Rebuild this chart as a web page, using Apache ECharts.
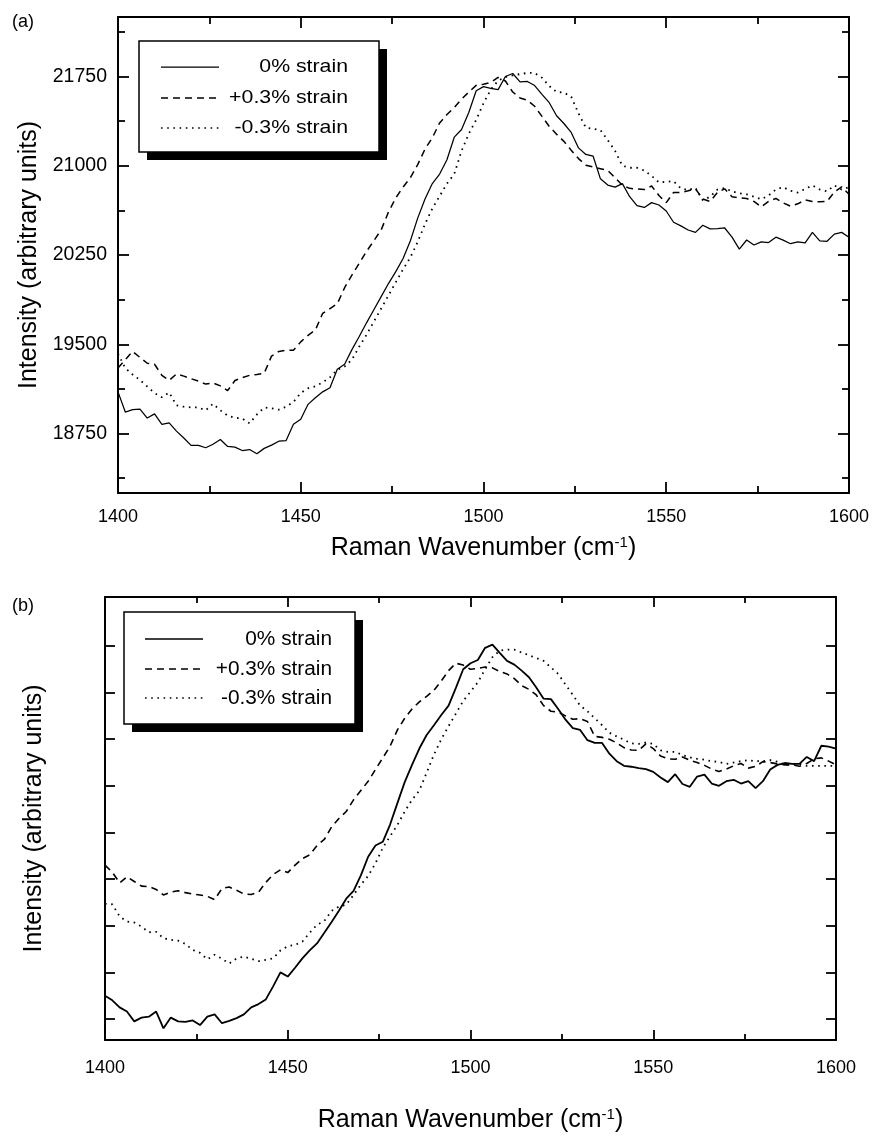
<!DOCTYPE html>
<html><head><meta charset="utf-8">
<script src="https://cdn.jsdelivr.net/npm/echarts@6/dist/echarts.min.js"></script>
<style>html,body{margin:0;padding:0;background:#fff}#c{width:872px;height:1142px}</style>
</head><body><div id="c"></div>
<script>
const wavenumber = [
1400,1402,1404,1406,1408,1410,1412,1414,1416,1418,
1420,1422,1424,1426,1428,1430,1432,1434,1436,1438,
1440,1442,1444,1446,1448,1450,1452,1454,1456,1458,
1460,1462,1464,1466,1468,1470,1472,1474,1476,1478,
1480,1482,1484,1486,1488,1490,1492,1494,1496,1498,
1500,1502,1504,1506,1508,1510,1512,1514,1516,1518,
1520,1522,1524,1526,1528,1530,1532,1534,1536,1538,
1540,1542,1544,1546,1548,1550,1552,1554,1556,1558,
1560,1562,1564,1566,1568,1570,1572,1574,1576,1578,
1580,1582,1584,1586,1588,1590,1592,1594,1596,1598,
1600];

// Panel (a): intensities (arbitrary units)
const a_zero = [
19100,18930,18950,18955,18880,18915,18826,18840,18770,18712,
18650,18650,18630,18660,18700,18641,18635,18607,18615,18580,
18625,18652,18685,18691,18828,18870,18995,19050,19100,19135,
19290,19332,19455,19565,19680,19790,19900,20010,20110,20220,
20370,20560,20720,20850,20930,21050,21240,21305,21450,21630,
21665,21650,21640,21750,21775,21705,21708,21674,21600,21530,
21420,21355,21280,21150,21095,21080,20890,20838,20820,20850,
20740,20665,20650,20690,20670,20620,20525,20495,20460,20440,
20500,20470,20472,20477,20400,20300,20376,20334,20360,20355,
20400,20375,20345,20360,20352,20440,20368,20365,20425,20440,
20400];
const a_plus = [
19300,19370,19440,19390,19340,19332,19239,19197,19250,19232,
19210,19190,19165,19175,19150,19110,19195,19220,19239,19245,
19256,19400,19440,19450,19450,19520,19575,19620,19760,19800,
19840,19975,20081,20180,20280,20370,20461,20610,20730,20820,
20900,21010,21140,21235,21360,21430,21490,21560,21620,21675,
21685,21700,21742,21712,21620,21570,21550,21500,21415,21330,
21265,21205,21130,21060,21005,20990,20975,20960,20900,20835,
20810,20805,20800,20830,20750,20690,20775,20775,20790,20806,
20720,20700,20775,20806,20740,20730,20725,20700,20655,20700,
20725,20688,20660,20680,20713,20700,20697,20700,20780,20823,
20760];
const a_minus = [
19420,19300,19245,19200,19145,19090,19054,19095,18986,18975,
18969,18969,18945,19000,18945,18900,18882,18876,18835,18910,
18968,18962,18950,18975,19015,19090,19130,19147,19180,19222,
19285,19313,19370,19480,19580,19690,19800,19910,20020,20130,
20230,20360,20510,20640,20745,20850,20930,21125,21270,21385,
21525,21640,21715,21745,21760,21770,21780,21780,21740,21670,
21620,21615,21580,21440,21320,21310,21300,21215,21125,21000,
20983,20983,20960,20915,20860,20865,20870,20810,20795,20815,
20710,20740,20800,20812,20785,20768,20760,20740,20718,20750,
20800,20820,20790,20775,20805,20835,20800,20785,20835,20800,
20820];

// Panel (b): intensities in tick units (axis is unlabeled)
const b_zero = [
0.50,0.40,0.25,0.16,-0.05,0.03,0.05,0.16,-0.20,0.03,
-0.05,-0.06,-0.03,-0.13,0.05,0.10,-0.09,-0.04,0.02,0.10,
0.25,0.32,0.42,0.70,1.00,0.91,1.10,1.30,1.47,1.62,
1.85,2.08,2.32,2.58,2.75,3.08,3.48,3.72,3.80,4.17,
4.63,5.08,5.45,5.80,6.09,6.30,6.52,6.72,7.10,7.50,
7.63,7.70,7.96,8.03,7.85,7.68,7.60,7.47,7.33,7.11,
6.87,6.86,6.65,6.42,6.24,6.20,5.98,5.92,5.92,5.69,
5.53,5.43,5.41,5.38,5.36,5.30,5.18,5.08,5.25,5.04,
4.98,5.20,5.24,5.05,5.00,5.10,5.13,5.05,5.10,4.95,
5.10,5.35,5.45,5.49,5.47,5.47,5.62,5.53,5.86,5.84,
5.80];
const b_plus = [
3.30,3.15,2.92,3.05,2.95,2.85,2.84,2.78,2.66,2.72,
2.75,2.71,2.68,2.66,2.63,2.56,2.80,2.83,2.76,2.68,
2.67,2.72,2.93,3.10,3.20,3.14,3.30,3.44,3.52,3.72,
3.85,4.12,4.30,4.45,4.70,4.90,5.10,5.35,5.60,5.85,
6.20,6.45,6.65,6.80,6.92,7.05,7.25,7.47,7.63,7.59,
7.50,7.52,7.55,7.53,7.45,7.40,7.30,7.15,7.07,6.95,
6.72,6.60,6.58,6.50,6.43,6.44,6.38,6.06,6.04,6.00,
5.92,5.82,5.77,5.76,5.90,5.80,5.64,5.58,5.57,5.62,
5.55,5.50,5.44,5.36,5.31,5.36,5.43,5.48,5.38,5.42,
5.52,5.50,5.47,5.45,5.45,5.42,5.48,5.58,5.60,5.53,
5.45];
const b_minus = [
2.47,2.46,2.20,2.09,2.07,1.98,1.86,1.87,1.73,1.70,
1.68,1.61,1.48,1.42,1.28,1.38,1.29,1.19,1.30,1.34,
1.29,1.24,1.27,1.30,1.47,1.56,1.59,1.66,1.85,2.02,
2.10,2.32,2.41,2.45,2.66,2.88,3.07,3.34,3.67,3.92,
4.16,4.45,4.70,4.90,5.28,5.67,6.00,6.28,6.55,6.82,
7.02,7.22,7.50,7.76,7.90,7.92,7.92,7.86,7.80,7.74,
7.68,7.54,7.40,7.17,6.95,6.72,6.60,6.45,6.30,6.14,
6.06,5.99,5.91,5.90,5.93,5.90,5.76,5.73,5.73,5.66,
5.61,5.58,5.56,5.53,5.51,5.47,5.50,5.53,5.55,5.53,
5.53,5.55,5.52,5.45,5.46,5.47,5.43,5.43,5.43,5.43,
5.43];

const seriesNames = ['0% strain', '+0.3% strain', '-0.3% strain'];
const xTickLabels = [1400, 1450, 1500, 1550, 1600];
const xMajorTicks = [1450, 1500, 1550];
const xMinorTicks = [1425, 1475, 1525, 1575];
const aYTickLabels = [18750, 19500, 20250, 21000, 21750];
const aYMinorTicks = [18375, 19125, 19875, 20625, 21375, 22125];
const bYTicks = [0, 1, 2, 3, 4, 5, 6, 7, 8];

const FONT = '"Liberation Sans", Arial, Helvetica, sans-serif';
const pairs = arr => wavenumber.map((w, i) => [w, arr[i]]);
const plain = v => String(v);

function xAx(grid, pos, ticks, len, opts) {
  opts = opts || {};
  return Object.assign({
    type: 'value', gridIndex: grid, position: pos, min: 1400, max: 1600,
    axisLine: { show: !!opts.line, onZero: false, lineStyle: { color: '#000', width: 2 } },
    axisTick: { show: true, inside: true, length: len, customValues: ticks, lineStyle: { color: '#000', width: 1.8 } },
    axisLabel: opts.labels ? { show: true, customValues: opts.labels, formatter: plain, color: '#000', fontSize: 18, fontFamily: FONT, margin: opts.margin } : { show: false },
    splitLine: { show: false }
  }, opts.extra || {});
}
function yAx(grid, pos, min, max, ticks, len, opts) {
  opts = opts || {};
  return Object.assign({
    type: 'value', gridIndex: grid, position: pos, min: min, max: max,
    axisLine: { show: !!opts.line, onZero: false, lineStyle: { color: '#000', width: 2 } },
    axisTick: { show: true, inside: true, length: len, customValues: ticks, lineStyle: { color: '#000', width: 1.8 } },
    axisLabel: opts.labels ? { show: true, customValues: opts.labels, formatter: plain, color: '#000', fontSize: 19.5, fontFamily: FONT, margin: 11 } : { show: false },
    splitLine: { show: false }
  }, opts.extra || {});
}

const xName = {
  name: 'Raman Wavenumber (cm{sup|-1})', nameLocation: 'middle',
  nameTextStyle: { color: '#000', fontSize: 25, fontFamily: FONT,
    rich: { sup: { fontSize: 15, fontFamily: FONT, color: '#000', verticalAlign: 'top', padding: [0, 0, 12, 0] } } }
};
const yName = { name: 'Intensity (arbitrary units)', nameLocation: 'middle', nameRotate: 90,
  nameTextStyle: { color: '#000', fontSize: 25, fontFamily: FONT } };

const xAxes = [
  xAx(0, 'bottom', xMajorTicks, 11, { line: true, labels: xTickLabels, margin: 15, extra: Object.assign({}, xName, { nameGap: 42 }) }),
  xAx(0, 'bottom', xMinorTicks, 7),
  xAx(0, 'top', xMajorTicks, 11, { line: true }),
  xAx(0, 'top', xMinorTicks, 7),
  xAx(1, 'bottom', xMajorTicks, 10, { line: true, labels: xTickLabels, margin: 19, extra: Object.assign({}, xName, { nameGap: 67 }) }),
  xAx(1, 'bottom', xMinorTicks, 6),
  xAx(1, 'top', xMajorTicks, 10, { line: true }),
  xAx(1, 'top', xMinorTicks, 6)
];
const yAxes = [
  yAx(0, 'left', 18250, 22250, aYTickLabels, 11, { line: true, labels: aYTickLabels, extra: Object.assign({}, yName, { nameGap: 73 }) }),
  yAx(0, 'left', 18250, 22250, aYMinorTicks, 7),
  yAx(0, 'right', 18250, 22250, aYTickLabels, 11, { line: true }),
  yAx(0, 'right', 18250, 22250, aYMinorTicks, 7),
  yAx(1, 'left', -0.45, 9.05, bYTicks, 10, { line: true, extra: Object.assign({}, yName, { nameGap: 58 }) }),
  yAx(1, 'right', -0.45, 9.05, bYTicks, 10, { line: true })
];

const styleA = [
  { color: '#000', width: 1.25, type: 'solid' },
  { color: '#000', width: 1.5, type: [7, 5] },
  { color: '#000', width: 1.8, type: [1.6, 4.6] }
];
const styleB = [
  { color: '#000', width: 1.8, type: 'solid' },
  { color: '#000', width: 1.6, type: [7, 5] },
  { color: '#000', width: 1.8, type: [1.6, 4.6] }
];
function mk(name, data, xi, yi, ls) {
  return { type: 'line', name: name, xAxisIndex: xi, yAxisIndex: yi, data: pairs(data),
    symbol: 'none', showSymbol: false, lineStyle: ls, animation: false, silent: true };
}
const series = [
  mk(seriesNames[0], a_zero, 0, 0, styleA[0]),
  mk(seriesNames[1], a_plus, 0, 0, styleA[1]),
  mk(seriesNames[2], a_minus, 0, 0, styleA[2]),
  mk(seriesNames[0], b_zero, 4, 4, styleB[0]),
  mk(seriesNames[1], b_plus, 4, 4, styleB[1]),
  mk(seriesNames[2], b_minus, 4, 4, styleB[2])
];

function legendBox(bx, by, bw, bh, lx0, lx1, rows, tx, fs, sx, styles) {
  const els = [
    { type: 'rect', shape: { x: bx + 8, y: by + 8, width: bw, height: bh }, style: { fill: '#000' }, silent: true },
    { type: 'rect', shape: { x: bx, y: by, width: bw, height: bh }, style: { fill: '#fff', stroke: '#000', lineWidth: 1.5 }, silent: true }
  ];
  rows.forEach((ry, i) => {
    const st = styles[i];
    els.push({ type: 'line', shape: { x1: lx0, y1: ry, x2: lx1, y2: ry }, silent: true,
      style: { stroke: '#000', lineWidth: Math.min(st.width, 1.5), lineDash: st.type === 'solid' ? null : st.type } });
    els.push({ type: 'text', x: tx, y: ry, scaleX: sx, silent: true,
      style: { text: seriesNames[i], fill: '#000', fontSize: fs, fontFamily: FONT, align: 'right', verticalAlign: 'middle', textAlign: 'right', textVerticalAlign: 'middle' } });
  });
  return els;
}

const graphics = [
  { type: 'text', x: 12, y: 22, silent: true, style: { text: '(a)', fill: '#000', fontSize: 18, fontFamily: FONT, verticalAlign: 'middle', textVerticalAlign: 'middle' } },
  { type: 'text', x: 12, y: 606, silent: true, style: { text: '(b)', fill: '#000', fontSize: 18, fontFamily: FONT, verticalAlign: 'middle', textVerticalAlign: 'middle' } }
].concat(
  legendBox(139, 41, 240, 111, 161, 219, [67, 98, 128], 348, 19, 1.12, styleA),
  legendBox(124, 612, 231, 112, 145, 203, [639, 669, 698], 332, 20, 1.04, styleB)
);

const chart = echarts.init(document.getElementById('c'), null, { renderer: 'canvas' });
chart.setOption({
  backgroundColor: '#fff',
  animation: false,
  grid: [
    { left: 118, top: 17, width: 734, height: 476 },
    { left: 105, top: 597, width: 731, height: 443 }
  ],
  xAxis: xAxes,
  yAxis: yAxes,
  series: series,
  graphic: graphics
});
</script></body></html>
